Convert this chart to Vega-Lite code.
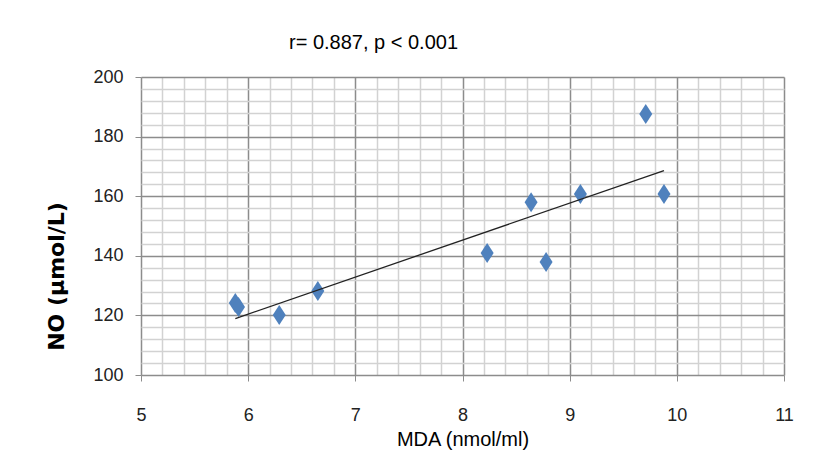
{
  "$schema": "https://vega.github.io/schema/vega-lite/v6.json",
  "autosize": "none",
  "width": 643,
  "height": 298,
  "padding": {"left": 141, "top": 77, "right": 49, "bottom": 87},
  "background": "white",
  "title": {
    "text": "r= 0.887, p < 0.001",
    "font": "Liberation Sans, Arial, sans-serif",
    "fontSize": 20,
    "fontWeight": "normal",
    "color": "black",
    "anchor": "middle",
    "dx": -89,
    "offset": 15
  },
  "data": {
    "values": [
      {"MDA": 5.88, "NO": 124.2},
      {"MDA": 5.91, "NO": 122.8},
      {"MDA": 6.29, "NO": 120.1},
      {"MDA": 6.65, "NO": 128.2},
      {"MDA": 8.23, "NO": 140.9},
      {"MDA": 8.64, "NO": 158.0},
      {"MDA": 8.78, "NO": 137.9},
      {"MDA": 9.10, "NO": 160.7},
      {"MDA": 9.71, "NO": 187.6},
      {"MDA": 9.88, "NO": 160.7}
    ]
  },
  "config": {
    "view": {"stroke": null},
    "axis": {
      "labelFont": "Liberation Sans, Arial, sans-serif",
      "labelFontSize": 18,
      "labelColor": "#222",
      "domain": false
    }
  },
  "layer": [
    {
      "mark": {"type": "point", "filled": true, "opacity": 1,
        "shape": "M0,-1L0.65,0L0,1L-0.65,0Z", "size": 400, "color": "#4F81BD"},
      "encoding": {
        "x": {
          "field": "MDA", "type": "quantitative",
          "scale": {"domain": [5, 11], "nice": false, "zero": false},
          "axis": {
            "values": [5,5.2,5.4,5.6,5.8,6,6.2,6.4,6.6,6.8,7,7.2,7.4,7.6,7.8,8,8.2,8.4,8.6,8.8,9,9.2,9.4,9.6,9.8,10,10.2,10.4,10.6,10.8,11],
            "tickCount": 1000,
            "format": ".0f",
            "title": "MDA (nmol/ml)",
            "titleFont": "Liberation Sans, Arial, sans-serif",
            "titleFontSize": 20,
            "titleFontWeight": "normal",
            "titleColor": "black",
            "titleBaseline": "alphabetic",
            "titleY": 70,
            "grid": true,
            "gridColor": {"condition": {"test": "abs(datum.value - round(datum.value)) < 0.001", "value": "#8c8c8c"}, "value": "#d2d2d2"},
            "gridWidth": 1.5,
            "ticks": true,
            "tickSize": 6,
            "tickColor": "#8c8c8c",
            "tickOpacity": {"condition": {"test": "abs(datum.value - round(datum.value)) < 0.001", "value": 1}, "value": 0},
            "labelOpacity": {"condition": {"test": "abs(datum.value - round(datum.value)) < 0.001", "value": 1}, "value": 0},
            "labelPadding": 25,
            "labelFlush": false,
            "labelOverlap": false
          }
        },
        "y": {
          "field": "NO", "type": "quantitative",
          "scale": {"domain": [100, 200], "nice": false, "zero": false},
          "axis": {
            "values": [100,104,108,112,116,120,124,128,132,136,140,144,148,152,156,160,164,168,172,176,180,184,188,192,196,200],
            "tickCount": 1000,
            "format": ".0f",
            "title": "NO (µmol/L)",
            "titleFont": "DejaVu Sans, sans-serif",
            "titleFontSize": 22,
            "titleFontWeight": "bold",
            "titleColor": "black",
            "titleBaseline": "alphabetic",
            "titleAngle": -90,
            "titleAlign": "center",
            "titleX": -78,
            "titleY": 199,
            "grid": true,
            "gridColor": {"condition": {"test": "datum.value % 20 === 0", "value": "#8c8c8c"}, "value": "#d2d2d2"},
            "gridWidth": 1.5,
            "ticks": true,
            "tickSize": 6,
            "tickColor": "#8c8c8c",
            "tickOpacity": {"condition": {"test": "datum.value % 20 === 0", "value": 1}, "value": 0},
            "labelOpacity": {"condition": {"test": "datum.value % 20 === 0", "value": 1}, "value": 0},
            "labelPadding": 12,
            "labelFlush": false,
            "labelOverlap": false
          }
        }
      }
    },
    {
      "transform": [{"regression": "NO", "on": "MDA"}],
      "mark": {"type": "line", "color": "#222", "strokeWidth": 1.3},
      "encoding": {
        "x": {"field": "MDA", "type": "quantitative"},
        "y": {"field": "NO", "type": "quantitative"}
      }
    }
  ]
}
